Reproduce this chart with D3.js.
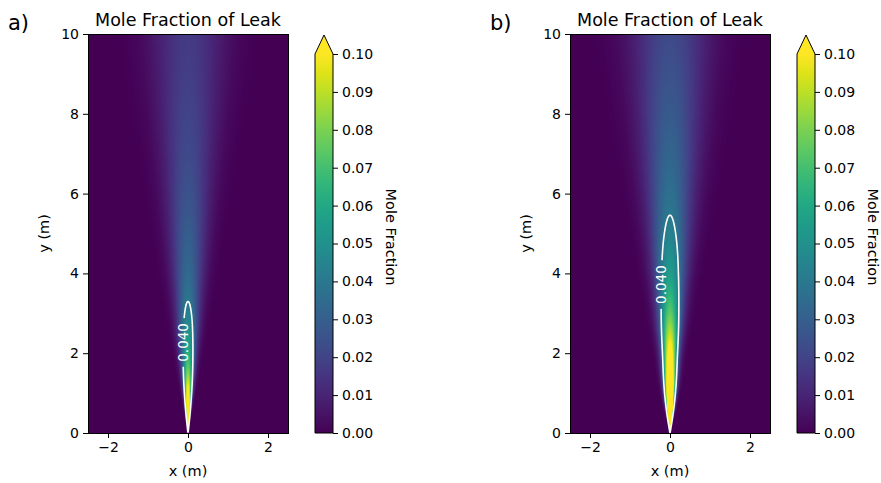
<!DOCTYPE html>
<html>
<head>
<meta charset="utf-8">
<script src="https://cdn.jsdelivr.net/npm/d3@7"></script>
<style>
	body { margin: 0; background: #fff; }
	svg text { font-family: "DejaVu Sans", sans-serif; fill: #000; }
	.axis text { font-size: 14px; fill: #000; }
	.axis path, .axis line { stroke: #000; }
</style>
</head>
<body>
<div id="graphicContainer"></div>
<script>

var heights = [0, 0.5, 1, 1.5, 2, 2.5, 3, 3.5, 4, 5, 6, 7, 8, 9, 10];

// centreline mole fraction at each height
var centerA = [0.25, 0.15, 0.11, 0.08, 0.063, 0.052, 0.044, 0.037, 0.034, 0.029, 0.025, 0.022, 0.02, 0.018, 0.017];
var centerB = [0.3, 0.2, 0.16, 0.13, 0.11, 0.09, 0.075, 0.064, 0.056, 0.043, 0.036, 0.032, 0.028, 0.025, 0.022];

// gaussian spread (m) of the cross-section at each height
var spreadA = [0, 0.032, 0.063, 0.095, 0.126, 0.158, 0.19, 0.22, 0.25, 0.31, 0.37, 0.43, 0.5, 0.56, 0.62];
var spreadB = [0, 0.045, 0.083, 0.11, 0.13, 0.165, 0.195, 0.225, 0.255, 0.325, 0.39, 0.455, 0.52, 0.585, 0.65];

var panelLabels = ["a)", "b)"];
var contourLevel = 0.04;
var labelHeights = [2.27, 3.72];

var xTicks = [-2, 0, 2];
var yTicks = [0, 2, 4, 6, 8, 10];
var cbTicks = [0, 0.01, 0.02, 0.03, 0.04, 0.05, 0.06, 0.07, 0.08, 0.09, 0.1];

var W = 881, H = 483;

var svg = d3.select("#graphicContainer").append("svg")
	.attr("width", W)
	.attr("height", H);

var defs = svg.append("defs");

var color = d3.scaleSequential(d3.interpolateViridis).domain([0, 0.1]).clamp(true);

var panels = [
	{ name: "A", centers: centerA, spreads: spreadA, offset: 0 },
	{ name: "B", centers: centerB, spreads: spreadB, offset: 482 }
];

var plotW = 200, plotH = 399, plotTop = 34;

// height -> position along the read-off table, then a smooth spline through it
var heightIndex = d3.scaleLinear().domain(heights).range(d3.range(heights.length).map(function(i) { return i / (heights.length - 1); })).clamp(true);

panels.forEach(function(p, k) {

	var left = 88 + p.offset;

	var x = d3.scaleLinear().domain([-2.5, 2.5]).range([0, plotW]);
	var y = d3.scaleLinear().domain([0, 10]).range([plotH, 0]);

	var centreSpline = d3.interpolateBasis(p.centers);
	var spreadSpline = d3.interpolateBasis(p.spreads);
	function centreAt(yv) { return centreSpline(heightIndex(yv)); }
	function spreadAt(yv) { return spreadSpline(heightIndex(yv)); }

	function field(xv, yv) {
		var s = Math.max(spreadAt(yv), 1e-4);
		return centreAt(yv) * Math.exp(-(xv * xv) / (2 * s * s));
	}

	var g = svg.append("g")
		.attr("transform", "translate(" + left + "," + plotTop + ")");

	// heatmap
	var canvas = document.createElement("canvas");
	canvas.width = plotW;
	canvas.height = plotH;
	var ctx = canvas.getContext("2d");
	var img = ctx.createImageData(plotW, plotH);
	for (var j = 0; j < plotH; j++) {
		var yv = y.invert(j + 0.5);
		for (var i = 0; i < plotW; i++) {
			var c = d3.rgb(color(field(x.invert(i + 0.5), yv)));
			var n = (j * plotW + i) * 4;
			img.data[n] = c.r;
			img.data[n + 1] = c.g;
			img.data[n + 2] = c.b;
			img.data[n + 3] = 255;
		}
	}
	ctx.putImageData(img, 0, 0);

	g.append("image")
		.attr("x", 0)
		.attr("y", 0)
		.attr("width", plotW)
		.attr("height", plotH)
		.attr("preserveAspectRatio", "none")
		.attr("href", canvas.toDataURL());

	// contour of the 0.040 level
	var nx = plotW * 4, ny = plotH * 2;
	var values = new Float64Array(nx * ny);
	for (var jj = 0; jj < ny; jj++) {
		var yy = y.invert((jj + 0.5) * plotH / ny);
		for (var ii = 0; ii < nx; ii++) {
			values[jj * nx + ii] = field(x.invert((ii + 0.5) * plotW / nx), yy);
		}
	}
	var contours = d3.contours().size([nx, ny]).thresholds([contourLevel])(values);

	var sx = plotW / nx, sy = plotH / ny;
	var path = d3.geoPath(d3.geoTransform({
		point: function(px, py) { this.stream.point(px * sx, py * sy); }
	}));

	// label position on the left branch of the contour
	var lh = labelHeights[k];
	var half = spreadAt(lh) * Math.sqrt(2 * Math.log(centreAt(lh) / contourLevel));
	var lx = x(-half), ly = y(lh);

	var label = g.append("text")
		.attr("transform", "translate(" + lx + "," + ly + ") rotate(-90)")
		.attr("text-anchor", "middle")
		.attr("dy", "0.36em")
		.style("font-size", "13.5px")
		.style("fill", "#fff")
		.text(d3.format(".3f")(contourLevel));

	var len = label.node().getComputedTextLength();

	var mask = defs.append("mask")
		.attr("id", "gap" + p.name)
		.attr("maskUnits", "userSpaceOnUse")
		.attr("x", 0).attr("y", 0)
		.attr("width", plotW).attr("height", plotH);
	mask.append("rect")
		.attr("width", plotW).attr("height", plotH)
		.attr("fill", "#fff");
	mask.append("rect")
		.attr("x", lx - 8).attr("y", ly - len / 2 - 5)
		.attr("width", 16).attr("height", len + 10)
		.attr("fill", "#000");

	g.insert("path", "text")
		.datum(contours[0])
		.attr("d", path)
		.attr("fill", "none")
		.attr("stroke", "#fff")
		.attr("stroke-width", 1.6)
		.attr("mask", "url(#gap" + p.name + ")");

	// frame and axes
	g.append("rect")
		.attr("x", 0.5).attr("y", 0.5)
		.attr("width", plotW).attr("height", plotH)
		.attr("fill", "none")
		.attr("stroke", "#000")
		.attr("stroke-width", 1);

	g.append("g")
		.attr("class", "axis")
		.attr("transform", "translate(0," + plotH + ")")
		.call(d3.axisBottom(x).tickValues(xTicks).tickSize(5).tickPadding(4).tickFormat(d3.format("")))
		.call(function(a) { a.select(".domain").remove(); });

	g.append("g")
		.attr("class", "axis")
		.call(d3.axisLeft(y).tickValues(yTicks).tickSize(5).tickPadding(4))
		.call(function(a) { a.select(".domain").remove(); });

	g.append("text")
		.attr("x", plotW / 2)
		.attr("y", -8)
		.attr("text-anchor", "middle")
		.style("font-size", "17.5px")
		.text("Mole Fraction of Leak");

	g.append("text")
		.attr("x", plotW / 2)
		.attr("y", plotH + 43)
		.attr("text-anchor", "middle")
		.style("font-size", "14.5px")
		.text("x (m)");

	g.append("text")
		.attr("transform", "translate(" + (-39) + "," + (plotH / 2) + ") rotate(-90)")
		.attr("text-anchor", "middle")
		.style("font-size", "14.5px")
		.text("y (m)");

	svg.append("text")
		.attr("x", 8 + p.offset)
		.attr("y", 30)
		.style("font-size", "21px")
		.text(panelLabels[k]);

	// colorbar
	var cbLeft = 315 + p.offset, cbW = 18;
	var cb = d3.scaleLinear().domain([0, 0.1]).range([433, 54]);

	var grad = defs.append("linearGradient")
		.attr("id", "cbGrad" + p.name)
		.attr("x1", 0).attr("y1", 1)
		.attr("x2", 0).attr("y2", 0);
	d3.range(0, 1.0001, 0.05).forEach(function(t) {
		grad.append("stop")
			.attr("offset", t)
			.attr("stop-color", color(t * 0.1));
	});

	var cbg = svg.append("g");

	cbg.append("rect")
		.attr("x", cbLeft)
		.attr("y", cb(0.1))
		.attr("width", cbW)
		.attr("height", cb(0) - cb(0.1))
		.attr("fill", "url(#cbGrad" + p.name + ")");

	cbg.append("path")
		.attr("d", "M" + cbLeft + "," + (cb(0.1) + 0.5) + "L" + (cbLeft + cbW / 2) + "," + 35 + "L" + (cbLeft + cbW) + "," + (cb(0.1) + 0.5) + "Z")
		.attr("fill", color(0.1));

	cbg.append("path")
		.attr("d", "M" + cbLeft + "," + cb(0) + "V" + cb(0.1) + "L" + (cbLeft + cbW / 2) + "," + 35 + "L" + (cbLeft + cbW) + "," + cb(0.1) + "V" + cb(0) + "Z")
		.attr("fill", "none")
		.attr("stroke", "#000")
		.attr("stroke-width", 1);

	cbg.append("g")
		.attr("class", "axis")
		.attr("transform", "translate(" + (cbLeft + cbW) + ",0)")
		.call(d3.axisRight(cb).tickValues(cbTicks).tickSize(5).tickPadding(4).tickFormat(d3.format(".2f")))
		.call(function(a) { a.select(".domain").remove(); });

	cbg.append("text")
		.attr("transform", "translate(" + (386 + p.offset) + ",237) rotate(90)")
		.attr("text-anchor", "middle")
		.style("font-size", "14.5px")
		.text("Mole Fraction");

});

</script>
</body>
</html>
